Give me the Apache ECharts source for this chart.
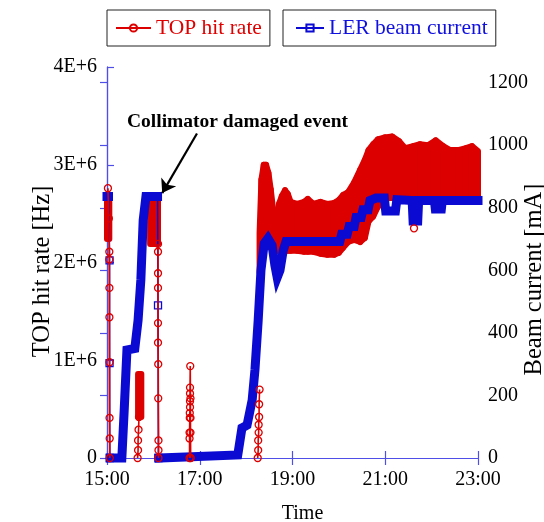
<!DOCTYPE html>
<html>
<head>
<meta charset="utf-8">
<script src="https://cdn.jsdelivr.net/npm/echarts@6/dist/echarts.min.js"></script>
<style>html,body{margin:0;padding:0;background:#fff}#chart{width:544px;height:522px}</style>
</head>
<body>
<div id="chart"></div>
<script>
// x values: hours after 15:00
const xTickLabels = ['15:00', '17:00', '19:00', '21:00', '23:00'];
const hitTickLabels = ['0', '1E+6', '2E+6', '3E+6', '4E+6'];

// TOP hit rate, in units of 1E+6 Hz: dense oscillating regions as [h, low, high]
const hitBandStart = [[0.00, 2.24, 2.62], [0.05, 2.24, 2.62]];
const hitBandRise = [[0.67, 0.42, 0.86], [0.74, 0.42, 0.86]];
const hitBandCollimator = [[0.93, 2.19, 2.64], [1.10, 2.19, 2.64]];
const hitBandMain = [
  [3.29, 1.90, 2.30], [3.33, 2.15, 2.85], [3.38, 2.20, 3.00], [3.43, 2.20, 3.00],
  [3.48, 2.20, 2.92], [3.53, 2.15, 2.75], [3.58, 2.12, 2.55], [3.62, 2.12, 2.45],
  [3.66, 2.12, 2.48], [3.71, 2.12, 2.60], [3.77, 2.12, 2.68], [3.84, 2.12, 2.74],
  [3.90, 2.12, 2.70], [3.96, 2.12, 2.62], [4.10, 2.12, 2.60], [4.25, 2.11, 2.62],
  [4.33, 2.11, 2.65], [4.45, 2.11, 2.60], [4.60, 2.09, 2.62], [4.75, 2.08, 2.60],
  [4.90, 2.08, 2.61], [5.00, 2.10, 2.64], [5.09, 2.15, 2.69], [5.20, 2.21, 2.72],
  [5.33, 2.23, 2.82], [5.46, 2.21, 2.95], [5.56, 2.25, 3.05], [5.64, 2.42, 3.15],
  [5.74, 2.47, 3.21], [5.84, 2.57, 3.26], [5.99, 2.66, 3.28], [6.15, 2.66, 3.29],
  [6.30, 2.66, 3.24], [6.43, 2.66, 3.17], [6.60, 2.66, 3.19], [6.75, 2.66, 3.21],
  [6.92, 2.66, 3.20], [7.09, 2.66, 3.25], [7.25, 2.66, 3.19], [7.40, 2.66, 3.15],
  [7.57, 2.66, 3.15], [7.74, 2.66, 3.17], [7.87, 2.66, 3.19], [8.00, 2.66, 3.14]
];
// TOP hit rate, sparse samples during fast changes [h, 1E+6 Hz]
const hitSamples = [
  [0.02, 2.76], [0.04, 2.45], [0.05, 2.11], [0.05, 2.03], [0.052, 1.74], [0.052, 1.44],
  [0.055, 0.98], [0.055, 0.41], [0.058, 0.20], [0.06, 0], null,
  [0.66, 0], [0.67, 0.08], [0.67, 0.18], [0.68, 0.29], [0.69, 0.42], null,
  [1.10, 2.19], [1.10, 2.11], [1.10, 1.89], [1.10, 1.74], [1.10, 1.38], [1.10, 1.18],
  [1.105, 0.96], [1.105, 0.61], [1.11, 0.18], [1.11, 0.08], [1.11, 0], null,
  [1.78, 0], [1.78, 0.20], [1.78, 0.26], [1.785, 0.41], [1.785, 0.46], [1.79, 0.52],
  [1.79, 0.58], [1.79, 0.66], [1.79, 0.72], [1.795, 0.94], [1.80, 0.61], [1.80, 0.41],
  [1.80, 0.26], [1.805, 0], null,
  [3.25, 0], [3.26, 0.08], [3.26, 0.18], [3.27, 0.26], [3.27, 0.34], [3.28, 0.42],
  [3.28, 0.55], [3.29, 0.70], null,
  [6.62, 2.35], null
];

// LER beam current [mA]: continuous trace [h, mA] (null = gap)
const beamTrace = [
  [0.00, 836], [0.03, 836], null,
  [0.07, 0], [0.32, 0], [0.37, 150], [0.43, 345], [0.60, 350], [0.67, 440],
  [0.73, 570], [0.78, 760], [0.84, 836], [1.09, 836], null,
  [1.12, 0], [2.82, 10], [2.91, 96], [3.02, 105], [3.13, 185], [3.19, 281],
  [3.26, 440], [3.32, 600], [3.39, 686], [3.47, 702], [3.56, 680], [3.62, 616],
  [3.67, 577], [3.73, 600], [3.80, 664], [3.86, 692], [5.02, 692], [5.06, 715],
  [5.18, 715], [5.22, 740], [5.33, 740], [5.37, 769], [5.48, 769], [5.52, 794],
  [5.63, 794], [5.67, 823], [5.80, 831], [5.98, 831], [6.01, 790], [6.22, 790],
  [6.25, 826], [6.58, 823], [6.60, 758], [6.70, 758], [6.72, 823], [7.06, 823],
  [7.08, 796], [7.21, 796], [7.23, 823], [8.00, 823]
];
// LER beam current, sparse samples during beam aborts [h, mA]
const beamSamples = [
  [0.04, 836], [0.055, 632], [0.055, 303], [0.06, 0], null,
  [1.09, 836], [1.10, 488], [1.11, 0]
];

const RED = '#dc0000';
const BLUE = '#0a0ad2';
const AXIS = '#4f4fe8';
const FONT = 'Liberation Serif';

function bandSeries(rows, color, z) {
  return {
    type: 'custom', silent: true, z: z, clip: false,
    xAxisIndex: 0, yAxisIndex: 0,
    encode: { x: 0, y: [1, 2] },
    data: rows,
    renderItem: function (params, api) {
      const i = params.dataIndex;
      if (i >= rows.length - 1) return null;
      const a = rows[i], b = rows[i + 1];
      const pts = [api.coord([a[0], a[2]]), api.coord([b[0], b[2]]),
                   api.coord([b[0], b[1]]), api.coord([a[0], a[1]])];
      return { type: 'polygon', shape: { points: pts },
               style: { fill: color, stroke: color, lineWidth: 6, lineJoin: 'round' } };
    }
  };
}

const chart = echarts.init(document.getElementById('chart'), null, { renderer: 'canvas' });
const valAxisCommon = {
  axisLine: { show: true, lineStyle: { color: AXIS, width: 1.2 } },
  axisTick: { show: true, inside: true, length: 7, lineStyle: { color: AXIS, width: 1.2 } },
  splitLine: { show: false },
  axisLabel: { color: '#000', fontSize: 20, fontFamily: FONT }
};
const nameStyle = { color: '#000', fontSize: 24.5, fontFamily: FONT };

chart.setOption({
  animation: false,
  backgroundColor: '#fff',
  grid: { left: 107, right: 66, top: 67, bottom: 64, outerBoundsMode: 'none', containLabel: false },
  legend: [
    {
      data: ['TOP hit rate'], left: 107, top: 10, selectedMode: false,
      padding: [7, 8, 7, 8], itemWidth: 35, itemHeight: 9, itemGap: 4,
      borderColor: '#222', borderWidth: 1,
      textStyle: { color: '#e00000', fontSize: 21.5, fontFamily: FONT }
    },
    {
      data: ['LER beam current'], left: 283, top: 10, selectedMode: false,
      padding: [7, 8, 7, 12], itemWidth: 28, itemHeight: 9, itemGap: 4,
      borderColor: '#222', borderWidth: 1,
      textStyle: { color: '#1010e0', fontSize: 21.5, fontFamily: FONT }
    }
  ],
  xAxis: [
    Object.assign({}, valAxisCommon, {
      type: 'value', min: 0, max: 8, interval: 2, position: 'bottom',
      name: 'Time', nameLocation: 'middle', nameGap: 46, nameMoveOverlap: false,
      nameTextStyle: { color: '#000', fontSize: 20, fontFamily: FONT, padding: [0, 0, 0, 20] },
      axisLabel: Object.assign({}, valAxisCommon.axisLabel, { margin: 12,
        formatter: function (v) { return xTickLabels[Math.round(v / 2)]; } })
    }),
    Object.assign({}, valAxisCommon, {
      type: 'value', min: 0, max: 8, interval: 2, position: 'top',
      axisLabel: { show: false }
    })
  ],
  yAxis: [
    Object.assign({}, valAxisCommon, {
      type: 'value', min: 0, max: 4, interval: 1, position: 'left',
      name: 'TOP hit rate [Hz]', nameLocation: 'middle', nameGap: 52, nameMoveOverlap: false,
      nameTextStyle: Object.assign({}, nameStyle, { padding: [0, 18, 0, 0] }),
      axisLabel: Object.assign({}, valAxisCommon.axisLabel, { margin: 10,
        formatter: function (v) { return hitTickLabels[Math.round(v)]; } })
    }),
    Object.assign({}, valAxisCommon, {
      type: 'value', min: 0, max: 1250, interval: 200, position: 'right',
      name: 'Beam current [mA]', nameLocation: 'middle', nameGap: 44, nameMoveOverlap: false,
      nameTextStyle: Object.assign({}, nameStyle, { padding: [0, 34, 0, 0] }),
      axisLabel: Object.assign({}, valAxisCommon.axisLabel, { margin: 10, showMaxLabel: false,
        formatter: function (v) { return v % 200 === 0 ? String(v) : ''; } })
    })
  ],
  graphic: [
    { type: 'text', left: 127, top: 112, z: 100,
      style: { text: 'Collimator damaged event', fill: '#000', font: 'bold 19.5px "Liberation Serif"' } }
  ],
  series: [
    bandSeries(hitBandStart, RED, 2),
    bandSeries(hitBandRise, RED, 2),
    bandSeries(hitBandCollimator, RED, 2),
    bandSeries(hitBandMain, RED, 2),
    {
      name: 'LER beam current', type: 'line', xAxisIndex: 0, yAxisIndex: 1, z: 3,
      data: beamSamples, connectNulls: false, clip: false,
      symbol: 'rect', symbolSize: 7,
      lineStyle: { color: BLUE, width: 1.6 },
      itemStyle: { color: 'rgba(0,0,0,0)', borderColor: BLUE, borderWidth: 1.3 }
    },
    {
      type: 'line', xAxisIndex: 0, yAxisIndex: 1, z: 4, silent: true,
      data: beamTrace, connectNulls: false, clip: false, showSymbol: false, symbol: 'none',
      lineStyle: { color: BLUE, width: 9, cap: 'square', join: 'miter' }
    },
    {
      name: 'TOP hit rate', type: 'line', xAxisIndex: 0, yAxisIndex: 0, z: 5,
      data: hitSamples, connectNulls: false, clip: false,
      symbol: 'circle', symbolSize: 7,
      lineStyle: { color: RED, width: 1.6 },
      itemStyle: { color: 'rgba(0,0,0,0)', borderColor: RED, borderWidth: 1.3 },
      markLine: {
        silent: true, symbol: ['none', 'arrow'], symbolSize: 13,
        lineStyle: { color: '#000', width: 2.2, type: 'solid' },
        label: { show: false },
        data: [[{ coord: [1.94, 3.32] }, { coord: [1.19, 2.71] }]]
      }
    }
  ]
});
</script>
</body>
</html>
